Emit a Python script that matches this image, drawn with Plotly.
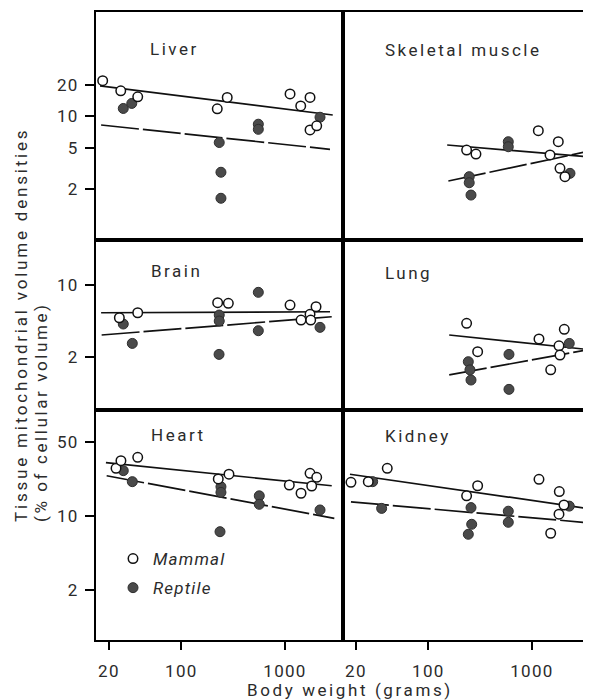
import plotly.graph_objects as go

# ---------------- data (body weight g, mitochondrial volume density %) ----------------
panel_names = ["Liver", "Skeletal muscle", "Brain", "Lung", "Heart", "Kidney"]

liver_mammal_x = [17.4, 26, 37.9, 222, 277, 1119, 1419, 1745, 1745, 2024]
liver_mammal_y = [22.0, 17.6, 15.4, 11.8, 15.2, 16.4, 12.6, 15.2, 7.4, 8.1]
liver_reptile_x = [27.5, 33.2, 232, 241, 241, 553, 553, 2178]
liver_reptile_y = [11.9, 13.3, 5.6, 2.9, 1.63, 8.4, 7.5, 9.8]
liver_mline_x, liver_mline_y = [16.4, 2890], [19.6, 10.3]
liver_rline_x, liver_rline_y = [16.8, 2720], [8.25, 4.82]

muscle_mammal_x = [234, 288, 1152, 1494, 1796, 1865, 2083]
muscle_mammal_y = [4.74, 4.34, 7.27, 4.25, 5.70, 3.16, 2.63]
muscle_reptile_x = [591, 591, 248, 248, 258, 2328]
muscle_reptile_y = [5.70, 5.10, 2.63, 2.30, 1.75, 2.83]
muscle_mline_x, muscle_mline_y = [152, 3376], [5.30, 4.09]
muscle_rline_x, muscle_rline_y = [156, 3376], [2.39, 4.57]

brain_mammal_x = [25.2, 37.9, 224, 284, 1119, 1994, 1429, 1745, 1772]
brain_mammal_y = [4.81, 5.38, 6.73, 6.64, 6.39, 6.15, 4.57, 5.19, 4.57]
brain_reptile_x = [27.5, 33.6, 232, 232, 231, 553, 553, 2178]
brain_reptile_y = [4.18, 2.71, 5.11, 4.47, 2.12, 8.49, 3.60, 3.88]
brain_mline_x, brain_mline_y = [16.8, 2720], [5.38, 5.50]
brain_rline_x, brain_rline_y = [17.0, 2826], [3.27, 4.92]

lung_mammal_x = [234, 299, 1169, 2051, 1824, 1865, 1517]
lung_mammal_y = [4.25, 2.25, 2.99, 3.71, 2.57, 2.09, 1.50]
lung_reptile_x = [243, 252, 258, 600, 600, 2291]
lung_reptile_y = [1.80, 1.50, 1.195, 2.12, 0.97, 2.71]
lung_mline_x, lung_mline_y = [159, 3376], [3.27, 2.37]
lung_rline_x, lung_rline_y = [159, 3376], [1.34, 2.34]

heart_mammal_x = [23.4, 26.1, 37.9, 227, 288, 1101, 1745, 2024, 1811, 1429]
heart_mammal_y = [28.2, 33.3, 35.8, 22.4, 24.8, 19.6, 25.3, 23.2, 19.2, 16.4]
heart_reptile_x = [27.5, 33.6, 241, 241, 565, 565, 2178, 236]
heart_reptile_y = [26.8, 21.1, 18.9, 16.7, 15.5, 12.9, 11.4, 7.11]
heart_mline_x, heart_mline_y = [18.7, 2826], [31.9, 19.3]
heart_rline_x, heart_rline_y = [19.0, 2994], [24.0, 9.51]

kidney_mammal_x = [17.9, 26.3, 40.1, 234, 299, 1169, 1836, 2038, 1824, 1517]
kidney_mammal_y = [20.8, 21.1, 28.2, 15.5, 19.3, 22.2, 17.0, 12.7, 10.4, 6.87]
kidney_reptile_x = [29.0, 35.4, 258, 262, 243, 591, 591, 2291]
kidney_reptile_y = [21.1, 11.8, 12.0, 8.35, 6.72, 11.1, 8.72, 12.4]
kidney_mline_x, kidney_mline_y = [17.5, 3631], [24.8, 11.7]
kidney_rline_x, kidney_rline_y = [17.9, 3130], [13.6, 8.72]

row_yticks = [[2, 5, 10, 20], [2, 10], [2, 10, 50]]
x_ticks = [20, 100, 1000]

series_labels = ["Mammal", "Reptile"]
x_title = "Body weight (grams)"
y_title_1 = "Tissue mitochondrial volume densities"
y_title_2 = "(% of cellular volume)"

panels = [
    (liver_mammal_x, liver_mammal_y, liver_reptile_x, liver_reptile_y,
     liver_mline_x, liver_mline_y, liver_rline_x, liver_rline_y),
    (muscle_mammal_x, muscle_mammal_y, muscle_reptile_x, muscle_reptile_y,
     muscle_mline_x, muscle_mline_y, muscle_rline_x, muscle_rline_y),
    (brain_mammal_x, brain_mammal_y, brain_reptile_x, brain_reptile_y,
     brain_mline_x, brain_mline_y, brain_rline_x, brain_rline_y),
    (lung_mammal_x, lung_mammal_y, lung_reptile_x, lung_reptile_y,
     lung_mline_x, lung_mline_y, lung_rline_x, lung_rline_y),
    (heart_mammal_x, heart_mammal_y, heart_reptile_x, heart_reptile_y,
     heart_mline_x, heart_mline_y, heart_rline_x, heart_rline_y),
    (kidney_mammal_x, kidney_mammal_y, kidney_reptile_x, kidney_reptile_y,
     kidney_mline_x, kidney_mline_y, kidney_rline_x, kidney_rline_y),
]

# ---------------- layout geometry ----------------
# the page body has an 8px margin, so the figure is 8px smaller and its
# plot area is expressed in page pixels: x 96..591, y 12..640
OFF = 8
PAGE_W, PAGE_H = 591, 700
PX0, PX1, PY0, PY1 = 96, 591, 12, 640
W, H = PAGE_W - OFF, PAGE_H - OFF
ML, MT = PX0 - OFF, PY0 - OFF
MR, MB = W - (PX1 - OFF), H - (PY1 - OFF)
PW, PH = PX1 - PX0, PY1 - PY0

def fx(px):
    return (px - PX0) / PW

def fy(py):
    return (PY1 - py) / PH

col_px = [(96, 343), (343, 591)]
row_px = [(12, 240), (240, 410), (410, 640)]
x_ranges = [[1.176, 3.560], [1.176, 3.570]]
y_ranges = [[-0.189, 2.003], [-0.2136, 1.437], [-0.171, 2.001]]

FONT = "Roboto, Lato, 'Open Sans', sans-serif"
TXT = "#2b2b2b"
WT = 400

def spaced(s, ls):
    return '<span style="letter-spacing:%.1fpx">%s</span>' % (ls, s)

fig = go.Figure()
layout = dict(
    template="none",
    width=W, height=H,
    margin=dict(l=ML, r=MR, t=MT, b=MB, autoexpand=False),
    paper_bgcolor="white", plot_bgcolor="white",
    font=dict(family=FONT, size=17, color=TXT, weight=WT),
    showlegend=True,
    hovermode=False,
)

for i, p in enumerate(panels):
    r, c = divmod(i, 2)
    k = i + 1
    xa = "x" if k == 1 else "x%d" % k
    ya = "y" if k == 1 else "y%d" % k
    mx, my, rx, ry, mlx, mly, rlx, rly = p
    # regression lines
    fig.add_trace(go.Scatter(x=mlx, y=mly, mode="lines", xaxis=xa, yaxis=ya,
                             line=dict(color="#111", width=1.7), showlegend=False,
                             hoverinfo="skip"))
    fig.add_trace(go.Scatter(x=rlx, y=rly, mode="lines", xaxis=xa, yaxis=ya,
                             line=dict(color="#111", width=1.7, dash="38px,4px"),
                             showlegend=False, hoverinfo="skip"))
    is_leg = (i == 4)
    fig.add_trace(go.Scatter(x=rx, y=ry, mode="markers", xaxis=xa, yaxis=ya,
                             name=spaced(series_labels[1], 1.2),
                             legendgroup="r", legendrank=2, showlegend=is_leg,
                             marker=dict(size=10, color="#4a4a4a",
                                         line=dict(color="#2e2e2e", width=1))))
    fig.add_trace(go.Scatter(x=mx, y=my, mode="markers", xaxis=xa, yaxis=ya,
                             name=spaced(series_labels[0], 1.2),
                             legendgroup="m", legendrank=1, showlegend=is_leg,
                             marker=dict(size=9.5, color="white",
                                         line=dict(color="#111", width=1.5))))

    x0, x1 = col_px[c]
    y0, y1 = row_px[r]
    bottom = (r == 2)
    left = (c == 0)
    xkey = "xaxis" if k == 1 else "xaxis%d" % k
    ykey = "yaxis" if k == 1 else "yaxis%d" % k
    layout[xkey] = dict(
        type="log", range=x_ranges[c], domain=[fx(x0), fx(x1)], anchor=ya,
        automargin=False,
        showgrid=False, zeroline=False, showline=True, mirror=True,
        linecolor="black", linewidth=2,
        ticks="outside" if bottom else "", ticklen=8, tickwidth=2, tickcolor="black",
        tickvals=x_ticks if bottom else [],
        ticktext=[spaced(str(v), 1.3) for v in x_ticks] if bottom else [],
        showticklabels=bottom, ticklabelstandoff=7,
        tickfont=dict(family=FONT, size=17, color=TXT, weight=WT),
    )
    layout[ykey] = dict(
        type="log", range=y_ranges[r], domain=[fy(y1), fy(y0)], anchor=xa,
        automargin=False,
        showgrid=False, zeroline=False, showline=True, mirror=left,
        linecolor="black", linewidth=2,
        ticks="outside" if left else "", ticklen=9, tickwidth=2, tickcolor="black",
        tickvals=row_yticks[r] if left else [],
        ticktext=[spaced(str(v), 1.3) for v in row_yticks[r]] if left else [],
        showticklabels=left, ticklabelstandoff=3,
        tickfont=dict(family=FONT, size=17, color=TXT, weight=WT),
    )

title_pos = [(148, 49), (383, 50), (149, 271), (383, 273), (149, 435), (383, 436)]
annotations = []
for name, (tx, ty) in zip(panel_names, title_pos):
    annotations.append(dict(text=spaced(name, 2.5), x=fx(tx), y=fy(ty),
                            xref="paper", yref="paper", xanchor="left", yanchor="middle",
                            showarrow=False,
                            font=dict(family=FONT, size=17, color=TXT, weight=WT)))
annotations.append(dict(text=spaced(x_title, 2.6), x=fx(350), y=fy(690),
                        xref="paper", yref="paper", xanchor="center", yanchor="middle",
                        showarrow=False, font=dict(family=FONT, size=17, color=TXT, weight=WT)))
annotations.append(dict(text=spaced(y_title_1, 2.8), x=fx(21), y=fy(524), textangle=-90,
                        xref="paper", yref="paper", xanchor="center", yanchor="bottom",
                        showarrow=False, font=dict(family=FONT, size=17, color=TXT, weight=WT)))
annotations.append(dict(text=spaced(y_title_2, 2.6), x=fx(41), y=fy(524), textangle=-90,
                        xref="paper", yref="paper", xanchor="center", yanchor="bottom",
                        showarrow=False, font=dict(family=FONT, size=17, color=TXT, weight=WT)))
layout["annotations"] = annotations
layout["legend"] = dict(x=fx(113), y=fy(541), xanchor="left", yanchor="top",
                        bgcolor="rgba(0,0,0,0)", borderwidth=0,
                        traceorder="grouped", tracegroupgap=4,
                        font=dict(family=FONT, size=17, color=TXT, style="italic",
                                  weight=WT),
                        itemsizing="trace")

fig.update_layout(**layout)
fig.write_html("out.html", config={"displayModeBar": False})
